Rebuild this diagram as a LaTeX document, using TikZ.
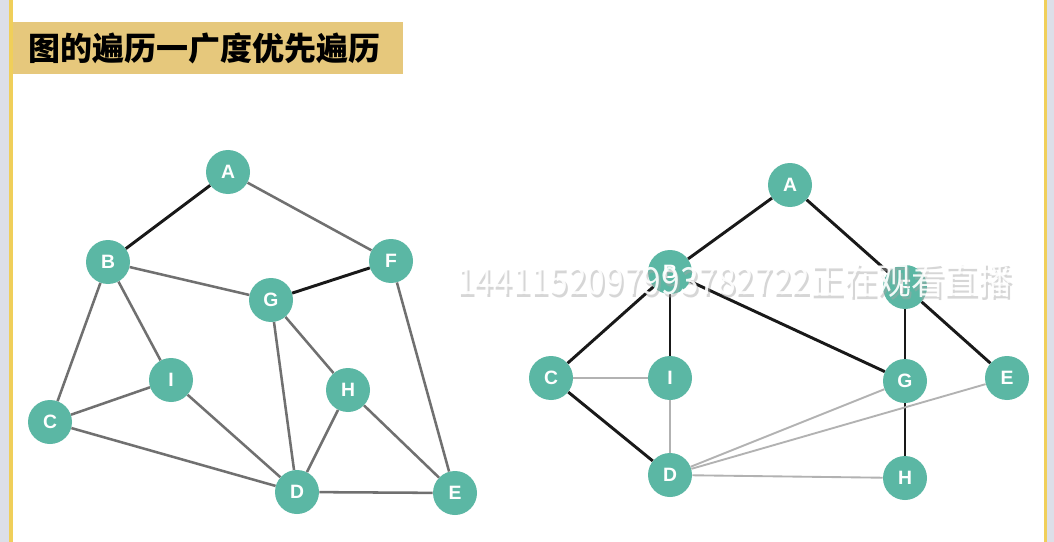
\documentclass[tikz,border=0pt]{standalone}
\usepackage{fontspec}
\setmainfont{Liberation Sans}
\newfontfamily\cjk{Noto Sans CJK SC}
\usetikzlibrary{positioning}
\definecolor{vtxfill}{HTML}{5BB7A4}
\definecolor{titlefill}{HTML}{E6C87C}
\definecolor{frameyel}{HTML}{F0CF5A}
\definecolor{framegray}{HTML}{DCDFE8}
\definecolor{edgegray}{HTML}{707070}
\definecolor{edgelight}{HTML}{B2B2B2}

\begin{document}
\begin{tikzpicture}[x=0.75pt,y=-0.75pt,
    vtx/.style={circle, fill=vtxfill, minimum size=33pt, inner sep=0pt, text=white,
                font=\bfseries\fontsize{14.5}{14.5}\selectfont},
    treeedge/.style={line width=2.2pt, black!90},
    plainedge/.style={line width=1.9pt, edgegray},
    lightedge/.style={line width=1.4pt, edgelight}]
    \useasboundingbox (0,0) rectangle (1054,542);
    \fill[white] (0,0) rectangle (1054,542);
    % frame
    \fill[framegray] (0,0) rectangle (9,542);
    \fill[frameyel]  (9,0) rectangle (13,542);
    \fill[frameyel]  (1044,0) rectangle (1047,542);
    \fill[framegray] (1047,0) rectangle (1054,542);
    % title
    \node[fill=titlefill, minimum width=292.5pt, minimum height=39pt, anchor=north west,
          inner sep=0pt] (titlebox) at (13,22) {};
    \node[anchor=west, font=\cjk\bfseries\fontsize{24}{24}\selectfont] (title)
          at (24,48) {图的遍历一广度优先遍历};

    % left graph
    \node[vtx] (A) at (228,172) {A};
    \node[vtx] (B) at (108,262) {B};
    \node[vtx] (F) at (391,261) {F};
    \node[vtx] (G) at (271,300) {G};
    \node[vtx] (I) at (171,380) {I};
    \node[vtx] (H) at (348,390) {H};
    \node[vtx] (C) at (50,422)  {C};
    \node[vtx] (D) at (297,492) {D};
    \node[vtx] (E) at (455,493) {E};
    \draw[treeedge] (A) -- (B);
    \draw[treeedge] (F) -- (G);
    \draw[plainedge] (A) -- (F);
    \draw[plainedge] (B) -- (G);
    \draw[plainedge] (B) -- (I);
    \draw[plainedge] (B) -- (C);
    \draw[plainedge] (F) -- (E);
    \draw[plainedge] (G) -- (D);
    \draw[plainedge] (G) -- (H);
    \draw[plainedge] (I) -- (C);
    \draw[plainedge] (I) -- (D);
    \draw[plainedge] (C) -- (D);
    \draw[plainedge] (H) -- (D);
    \draw[plainedge] (H) -- (E);
    \draw[plainedge] (D) -- (E);

    % right graph (BFS tree)
    \node[vtx] (A2) at (790,185) {A};
    \node[vtx] (B2) at (670,272) {B};
    \node[vtx] (F2) at (905,287) {F};
    \node[vtx] (C2) at (551,378) {C};
    \node[vtx] (I2) at (670,378) {I};
    \node[vtx] (G2) at (905,381) {G};
    \node[vtx] (E2) at (1007,378) {E};
    \node[vtx] (D2) at (670,475) {D};
    \node[vtx] (H2) at (905,478) {H};
    \draw[treeedge] (A2) -- (B2);
    \draw[treeedge] (A2) -- (F2);
    \draw[treeedge] (B2) -- (C2);
    \draw[treeedge] (B2) -- (I2);
    \draw[treeedge] (B2) -- (G2);
    \draw[treeedge] (F2) -- (G2);
    \draw[treeedge] (F2) -- (E2);
    \draw[treeedge] (G2) -- (H2);
    \draw[treeedge] (C2) -- (D2);
    \draw[lightedge] (C2) -- (I2);
    \draw[lightedge] (I2) -- (D2);
    \draw[lightedge] (D2) -- (G2);
    \draw[lightedge] (D2) -- (E2);
    \draw[lightedge] (D2) -- (H2);

    % overlay text
    \node[anchor=west, text=black!35, opacity=0.45, xscale=0.9,
          font=\cjk\fontsize{28}{28}\selectfont] (markshadow)
          at (454,283) {1441152097993782722正在观看直播};
    \node[anchor=west, text=white, opacity=0.92, xscale=0.9,
          font=\cjk\fontsize{28}{28}\selectfont] (mark)
          at (452,280) {1441152097993782722正在观看直播};
\end{tikzpicture}
\end{document}
